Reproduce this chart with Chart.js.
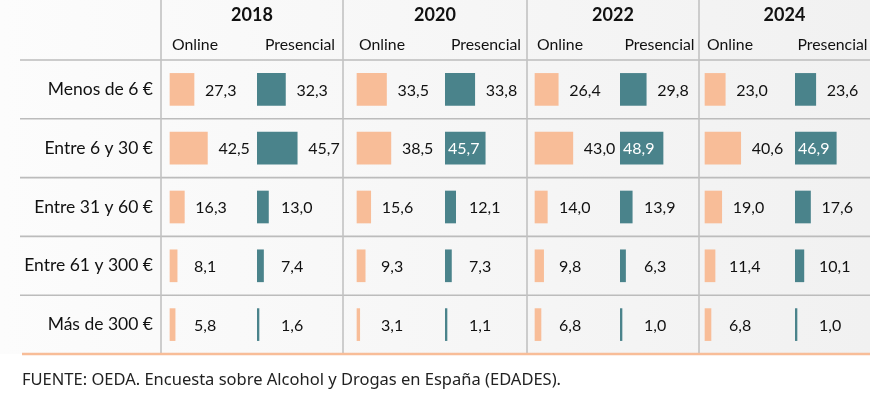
<!DOCTYPE html>
<html><head><meta charset="utf-8">
<script src="https://cdn.jsdelivr.net/npm/chart.js@4.4.1/dist/chart.umd.min.js"></script>
<style>html,body{margin:0;padding:0;background:#fff}#wrap{position:relative;width:888px;height:394px}</style>
</head><body><div id="wrap"><canvas id="c"></canvas></div>
<script>
// ---- data ----
const categories = ['Menos de 6 €', 'Entre 6 y 30 €', 'Entre 31 y 60 €', 'Entre 61 y 300 €', 'Más de 300 €'];
const years = ['2018', '2020', '2022', '2024'];
const channels = ['Online', 'Presencial'];
const online2018     = [27.3, 42.5, 16.3, 8.1, 5.8];
const presencial2018 = [32.3, 45.7, 13.0, 7.4, 1.6];
const online2020     = [33.5, 38.5, 15.6, 9.3, 3.1];
const presencial2020 = [33.8, 45.7, 12.1, 7.3, 1.1];
const online2022     = [26.4, 43.0, 14.0, 9.8, 6.8];
const presencial2022 = [29.8, 48.9, 13.9, 6.3, 1.0];
const online2024     = [23.0, 40.6, 19.0, 11.4, 6.8];
const presencial2024 = [23.6, 46.9, 17.6, 10.1, 1.0];
const sourceText = 'FUENTE: OEDA. Encuesta sobre Alcohol y Drogas en España (EDADES).';

// ---- layout / style ----
const PX_PER_UNIT = 0.88;
const colWidths  = [96, 86, 102, 82, 93, 79, 96, 75];
const barOffsets = [9, 0, 14, 0, 8, 0, 6, 0];
const COLORS = ['#f8bd98', '#4a838b'];
const FONT = 'Lato';
const TXT = '#111111';

const series = [online2018, presencial2018, online2020, presencial2020,
                online2022, presencial2022, online2024, presencial2024];

const scales = {
  y: {
    type: 'category',
    labels: categories,
    position: 'left',
    afterFit: (s) => { s.width = 141; },
    grid: { display: false, drawTicks: false },
    border: { display: false },
    ticks: { color: TXT, font: { family: FONT, size: 17.5 }, padding: 8 }
  }
};
series.forEach((s, i) => {
  const min = -barOffsets[i] / PX_PER_UNIT;
  scales['x' + i] = {
    type: 'linear', position: 'bottom', stack: 'cols', stackWeight: colWidths[i],
    display: false, min: min, max: min + colWidths[i] / PX_PER_UNIT
  };
});

const datasets = series.map((s, i) => ({
  label: years[Math.floor(i / 2)] + ' ' + channels[i % 2],
  data: s,
  xAxisID: 'x' + i,
  yAxisID: 'y',
  backgroundColor: COLORS[i % 2],
  borderWidth: 0,
  grouped: false,
  barThickness: 32,
  minBarLength: 2
}));

const fmt = (v) => v.toFixed(1).replace('.', ',');

const tablePlugin = {
  id: 'table',
  beforeDraw(chart) {
    const ctx = chart.ctx, ca = chart.chartArea, y = chart.scales.y;
    const right = ca.right, bottom = ca.bottom;
    ctx.save();
    const g = ctx.createLinearGradient(0, 0, right, 0);
    g.addColorStop(0, '#fcfcfc');
    g.addColorStop(1, '#f1f1f1');
    ctx.fillStyle = g;
    ctx.fillRect(0, 0, right, bottom);
    const rowH = y.getPixelForValue(1) - y.getPixelForValue(0);
    ctx.strokeStyle = '#bcbcbc';
    ctx.lineWidth = 1.6;
    for (let i = 0; i < categories.length; i++) {
      const py = y.getPixelForValue(i) - rowH / 2;
      ctx.beginPath(); ctx.moveTo(20, py); ctx.lineTo(right, py); ctx.stroke();
    }
    ctx.strokeStyle = '#c2c2c2';
    for (let j = 0; j < years.length; j++) {
      const px = chart.scales['x' + (2 * j)].left;
      ctx.beginPath(); ctx.moveTo(px, 0); ctx.lineTo(px, bottom); ctx.stroke();
    }
    ctx.strokeStyle = '#f8bd98';
    ctx.lineWidth = 2.5;
    ctx.beginPath(); ctx.moveTo(22, bottom); ctx.lineTo(right, bottom); ctx.stroke();
    ctx.restore();
  },
  afterDatasetsDraw(chart) {
    const ctx = chart.ctx;
    ctx.save();
    for (let j = 0; j < years.length; j++) {
      const so = chart.scales['x' + (2 * j)], sp = chart.scales['x' + (2 * j + 1)];
      ctx.fillStyle = TXT;
      ctx.font = 'bold 18px ' + FONT;
      ctx.textAlign = 'center'; ctx.textBaseline = 'alphabetic';
      ctx.fillText(years[j], (so.left + sp.right) / 2, 21);
      ctx.font = '15.8px ' + FONT;
      ctx.textAlign = 'left';
      ctx.fillText(channels[0], so.getPixelForValue(0) + 2, 50);
      ctx.textAlign = 'center';
      ctx.fillText(channels[1], (sp.left + sp.right) / 2, 50);
    }
    ctx.font = '16px ' + FONT;
    ctx.textBaseline = 'middle';
    ctx.textAlign = 'left';
    chart.data.datasets.forEach((ds, i) => {
      const meta = chart.getDatasetMeta(i);
      const limit = chart.scales['x' + i].right;
      meta.data.forEach((bar, k) => {
        const txt = fmt(ds.data[k]);
        const w = ctx.measureText(txt).width;
        const start = bar.base, end = bar.x;
        if (end + 12 + w > limit) {
          ctx.fillStyle = '#ffffff';
          ctx.fillText(txt, start + 3, bar.y + 1);
        } else {
          ctx.fillStyle = TXT;
          ctx.fillText(txt, Math.max(end + 11, start + 24), bar.y + 1);
        }
      });
    });
    ctx.restore();
  },
  afterDraw(chart) {
    const ctx = chart.ctx;
    ctx.save();
    ctx.fillStyle = '#222';
    ctx.font = '16.5px "Noto Sans"';
    ctx.textAlign = 'left'; ctx.textBaseline = 'alphabetic';
    ctx.fillText(sourceText, 22, 385);
    ctx.restore();
  }
};

new Chart(document.getElementById('c'), {
  type: 'bar',
  data: { labels: categories, datasets },
  options: {
    indexAxis: 'y',
    responsive: true,
    maintainAspectRatio: false,
    animation: false,
    layout: { padding: { left: 20, right: 18, top: 60, bottom: 40 } },
    plugins: { legend: { display: false }, tooltip: { enabled: false } },
    scales
  },
  plugins: [tablePlugin]
});
</script>
</body></html>
